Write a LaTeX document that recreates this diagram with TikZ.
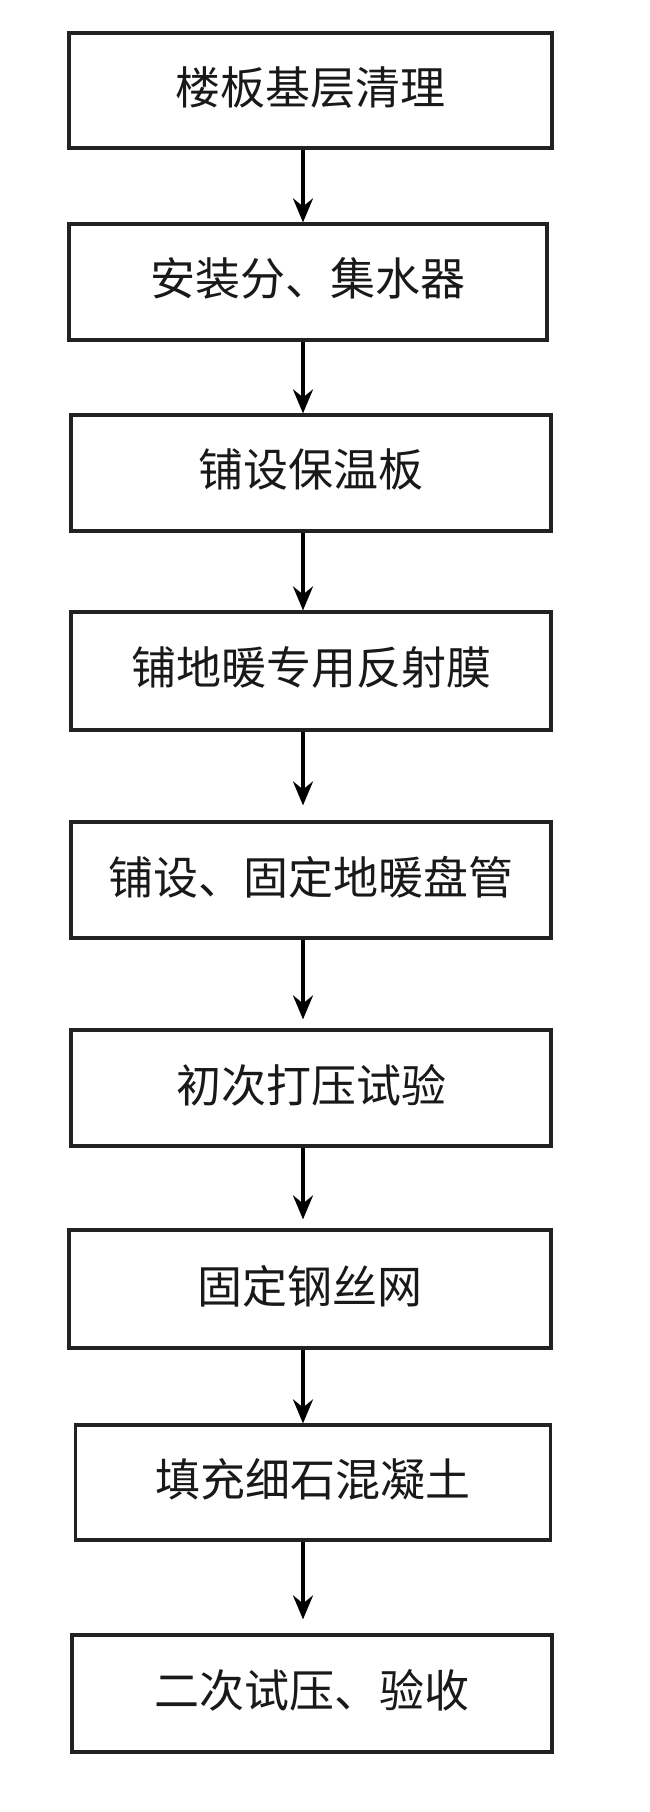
\documentclass[tikz,border=0pt]{standalone}
\usepackage{fontspec}
\newfontfamily\cjk{Noto Sans CJK SC}
\usetikzlibrary{arrows.meta}
\definecolor{boxline}{HTML}{222222}
\tikzset{
  stepbox/.style={draw=boxline, line width=3.2pt, inner sep=0pt,
    font=\cjk\fontsize{45}{50}\selectfont, text=black!90},
  flowarrow/.style={draw=black, line width=3.6pt,
    -{Stealth[length=24pt,width=20pt,inset=8pt]}},
}
\begin{document}
\begin{tikzpicture}[x=1pt,y=-1pt]
\useasboundingbox (0,0) rectangle (650,1812);
\fill[white] (0,0) rectangle (650,1812);
\coordinate (ax) at (303,0);
\node[stepbox, minimum width=483pt, minimum height=115pt] (b1) at (310.5,90.5) {\raisebox{10pt}{楼板基层清理}};
\node[stepbox, minimum width=478pt, minimum height=116pt] (b2) at (308,282) {\raisebox{10pt}{安装分、集水器}};
\node[stepbox, minimum width=480pt, minimum height=116pt] (b3) at (311,473) {\raisebox{10pt}{铺设保温板}};
\node[stepbox, minimum width=480pt, minimum height=118pt] (b4) at (311,671) {\raisebox{10pt}{铺地暖专用反射膜}};
\node[stepbox, minimum width=480pt, minimum height=116pt] (b5) at (311,880) {\raisebox{10pt}{铺设、固定地暖盘管}};
\node[stepbox, minimum width=480pt, minimum height=116pt] (b6) at (311,1088) {\raisebox{10pt}{初次打压试验}};
\node[stepbox, minimum width=482pt, minimum height=118pt] (b7) at (310,1289) {\raisebox{10pt}{固定钢丝网}};
\node[stepbox, minimum width=475pt, minimum height=115pt] (b8) at (313,1482.5) {\raisebox{10pt}{填充细石混凝土}};
\node[stepbox, minimum width=480pt, minimum height=117pt] (b9) at (312,1693.5) {\raisebox{10pt}{二次试压、验收}};
\draw[flowarrow] (b1.south -| ax) -- (b2.north -| ax);
\draw[flowarrow] (b2.south -| ax) -- (b3.north -| ax);
\draw[flowarrow] (b3.south -| ax) -- (b4.north -| ax);
\draw[flowarrow, shorten >=15pt] (b4.south -| ax) -- (b5.north -| ax);
\draw[flowarrow, shorten >=9pt] (b5.south -| ax) -- (b6.north -| ax);
\draw[flowarrow, shorten >=9pt] (b6.south -| ax) -- (b7.north -| ax);
\draw[flowarrow] (b7.south -| ax) -- (b8.north -| ax);
\draw[flowarrow, shorten >=14pt] (b8.south -| ax) -- (b9.north -| ax);
\end{tikzpicture}
\end{document}
